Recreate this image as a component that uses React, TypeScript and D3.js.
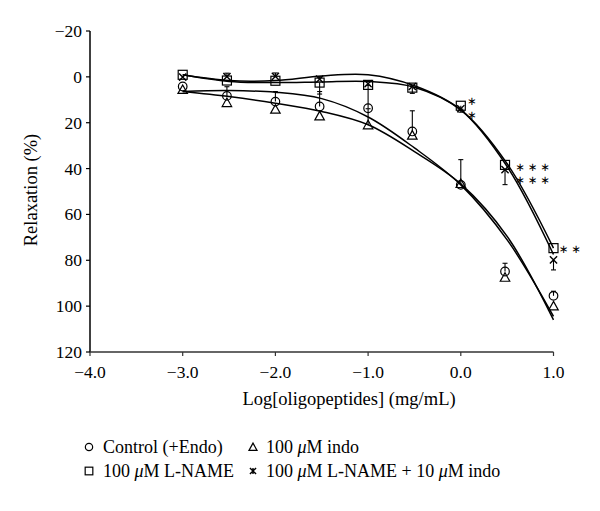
import React from 'react';
import * as d3 from 'd3';

// log10 of oligopeptide concentration (mg/mL)
const logConc = [-3, -2.523, -2, -1.523, -1, -0.523, 0, 0.477, 1];

const controlVals = [4.2, 8.3, 10.8, 12.9, 13.7, 23.8, 47.1, 84.9, 95.5];
const controlErrUp = [0, 4, 4.4, 6.5, 10, 9, 11, 3.6, 2];
const controlErrDown = [0, 0, 0, 0, 0, 0, 0, 0, 0];

const indoVals = [5.5, 11.2, 14.1, 17.0, 20.9, 25.4, 46.5, 87.4, 99.9];
const indoErrUp = [0, 0, 0, 0, 7, 0, 0, 0, 0];
const indoErrDown = [0, 0, 0, 0, 0, 0, 0, 0, 0];

const lnameVals = [-0.9, 1.6, 1.7, 2.5, 3.5, 4.7, 12.6, 38.4, 74.7];
const lnameErrUp = [0, 0, 0, 0, 0, 0, 0, 0, 0];
const lnameErrDown = [0, 0, 0, 5, 0, 2.5, 1.5, 0, 0];

const lnIndoVals = [0.1, -0.1, -0.2, 1.0, 3.0, 4.2, 13.9, 40.5, 79.8];
const lnIndoErrUp = [0, 1.5, 1.5, 1, 0, 0, 0, 0, 0];
const lnIndoErrDown = [0, 0, 0, 0, 0, 0, 1.5, 6.5, 4.4];

// fitted curves
const fitX = [-3, -2.5, -2, -1.5, -1, -0.5, 0, 0.5, 1];
const fitControl = [6.4, 6.0, 6.7, 9.5, 17.5, 31.0, 47.1, 71.1, 104.5];
const fitIndo = [6.4, 8.6, 11.5, 15.1, 20.9, 32.6, 46.7, 69.6, 106.0];
const fitLname = [-0.9, 2.0, 2.5, 2.2, 2.0, 4.5, 14.4, 37.9, 74.7];
const fitLnIndo = [-0.9, 1.6, 1.6, -0.4, -0.9, 3.9, 14.4, 39.1, 77.5];

const yTicks = [-20, 0, 20, 40, 60, 80, 100, 120];
const xTicks = [-4, -3, -2, -1, 0, 1];

// significance marks (rows of asterisks beside the L-NAME points)
const sigIndex = [6, 7, 8];
const sigRowLabels = [['\u2217', '\u2217'], ['\u2217\u2217\u2217', '\u2217\u2217\u2217'], ['\u2217\u2217']];

const W = 600;
const H = 511;
const FONT = '"Liberation Serif", "Times New Roman", serif';

const x = d3.scaleLinear().domain([-4, 1]).range([90, 553.5]);
const y = d3.scaleLinear().domain([-20, 120]).range([31, 352]);

const fmt = (v: number, d: number) => (v < 0 ? '\u2212' + Math.abs(v).toFixed(d) : v.toFixed(d));

type Kind = 'circle' | 'triangle' | 'square' | 'cross';

function Marker({ kind, cx, cy, s = 1, legend = false }: { kind: Kind; cx: number; cy: number; s?: number; legend?: boolean }) {
  const common = { fill: 'none', stroke: '#000', strokeWidth: 1.2 };
  if (kind === 'circle') return <circle cx={cx} cy={cy} r={4.3 * s} {...common} />;
  if (kind === 'square') return <rect x={cx - 4.5 * s} y={cy - 4.5 * s} width={9 * s} height={9 * s} {...common} />;
  if (kind === 'triangle') {
    const h = 8 * s, w = 9.5 * s;
    return <path d={`M${cx},${cy - h / 2 - 0.5}L${cx + w / 2},${cy + h / 2}L${cx - w / 2},${cy + h / 2}Z`} {...common} />;
  }
  const r = 3.6 * s;
  return (
    <path
      d={`M${cx - r},${cy - r}L${cx + r},${cy + r}M${cx + r},${cy - r}L${cx - r},${cy + r}` + (legend ? `M${cx},${cy - r}L${cx},${cy + r}` : '')}
      fill="none"
      stroke="#000"
      strokeWidth={1.4}
    />
  );
}

const series: { kind: Kind; vals: number[]; up: number[]; down: number[]; fit: number[] }[] = [
  { kind: 'circle', vals: controlVals, up: controlErrUp, down: controlErrDown, fit: fitControl },
  { kind: 'triangle', vals: indoVals, up: indoErrUp, down: indoErrDown, fit: fitIndo },
  { kind: 'square', vals: lnameVals, up: lnameErrUp, down: lnameErrDown, fit: fitLname },
  { kind: 'cross', vals: lnIndoVals, up: lnIndoErrUp, down: lnIndoErrDown, fit: fitLnIndo },
];

const line = d3
  .line<[number, number]>()
  .x((d) => x(d[0]))
  .y((d) => y(d[1]))
  .curve(d3.curveCatmullRom.alpha(0.5));

// layout for the asterisk groups (pixel offsets from the L-NAME point)
const sigDx = [6.5, 10.5, 5.5];
const sigDy = [-4.2, 2, 0.7];

export default function App() {
  return (
    <svg width={W} height={H} style={{ display: 'block', position: 'absolute', left: 0, top: 0, background: '#fff' }} fontFamily={FONT}>
      <rect width={W} height={H} fill="#fff" />
      {/* fitted curves */}
      {series.map((s, i) => (
        <path key={'f' + i} d={line(fitX.map((v, j) => [v, s.fit[j]]))!} fill="none" stroke="#000" strokeWidth={1.5} />
      ))}
      {/* error bars */}
      {series.map((s, i) =>
        s.vals.map((v, j) => {
          const cx = x(logConc[j]);
          const els: any[] = [];
          if (s.up[j] > 0) {
            const y2 = y(v - s.up[j]);
            els.push(<line key={'u' + j} x1={cx} x2={cx} y1={y(v)} y2={y2} stroke="#000" strokeWidth={1.1} />);
            els.push(<line key={'uc' + j} x1={cx - 2.5} x2={cx + 2.5} y1={y2} y2={y2} stroke="#000" strokeWidth={1.1} />);
          }
          if (s.down[j] > 0) {
            const y2 = y(v + s.down[j]);
            els.push(<line key={'d' + j} x1={cx} x2={cx} y1={y(v)} y2={y2} stroke="#000" strokeWidth={1.1} />);
            els.push(<line key={'dc' + j} x1={cx - 2.5} x2={cx + 2.5} y1={y2} y2={y2} stroke="#000" strokeWidth={1.1} />);
          }
          return <g key={'e' + i + '-' + j}>{els}</g>;
        })
      )}
      {/* markers */}
      {series.map((s, i) =>
        s.vals.map((v, j) => <Marker key={'m' + i + '-' + j} kind={s.kind} cx={x(logConc[j])} cy={y(v)} />)
      )}
      {/* significance asterisks */}
      {sigIndex.map((idx, k) => {
        const px = x(logConc[idx]) + sigDx[k];
        const py = y(lnameVals[idx]) + sigDy[k] + 3.8;
        return (
          <text
            key={'s' + k}
            x={px}
            y={py}
            fontSize={11.5}
            letterSpacing={2.9}
            fontFamily='"DejaVu Sans ExtraLight", "DejaVu Sans", sans-serif'
            fill="#000"
          >
            {sigRowLabels[k].map((lab, r) => (
              <tspan key={r} x={px} dy={r === 0 ? 0 : 13.4}>
                {lab}
              </tspan>
            ))}
          </text>
        );
      })}
      {/* axes */}
      <line x1={90} x2={90} y1={y(-20)} y2={y(120)} stroke="#000" strokeWidth={1.5} />
      <line x1={89.25} x2={x(1)} y1={y(120)} y2={y(120)} stroke="#333" strokeWidth={1.5} />
      {yTicks.map((t) => (
        <g key={'yt' + t}>
          <line x1={86} x2={90} y1={y(t)} y2={y(t)} stroke="#000" strokeWidth={1.2} />
          <text x={82} y={y(t) + 6} textAnchor="end" fontSize={17.5} fill="#000">
            {fmt(t, 0)}
          </text>
        </g>
      ))}
      {xTicks.map((t) => (
        <g key={'xt' + t}>
          <line x1={x(t)} x2={x(t)} y1={y(120)} y2={y(120) + 4} stroke="#333" strokeWidth={1.2} />
          <text x={x(t)} y={378} textAnchor="middle" fontSize={17.5} fill="#000">
            {fmt(t, 1)}
          </text>
        </g>
      ))}
      <text x={349} y={405} textAnchor="middle" fontSize={18.5} fill="#000">
        Log[oligopeptides] (mg/mL)
      </text>
      <text transform={`translate(37,${190}) rotate(-90)`} textAnchor="middle" fontSize={18.5} fill="#000">
        Relaxation (%)
      </text>
      {/* legend */}
      <g fontSize={18} fill="#000">
        <Marker kind="circle" cx={89} cy={447} s={0.85} />
        <text x={103} y={453}>Control (+Endo)</text>
        <Marker kind="triangle" cx={253} cy={447} s={0.85} />
        <text x={266} y={453}>
          100 <tspan fontStyle="italic">μ</tspan>M indo
        </text>
        <Marker kind="square" cx={89} cy={471} s={0.85} />
        <text x={103} y={477}>
          100 <tspan fontStyle="italic">μ</tspan>M L-NAME
        </text>
        <Marker kind="cross" cx={253} cy={471} s={0.85} legend />
        <text x={266} y={477}>
          100 <tspan fontStyle="italic">μ</tspan>M L-NAME + 10 <tspan fontStyle="italic">μ</tspan>M indo
        </text>
      </g>
    </svg>
  );
}
